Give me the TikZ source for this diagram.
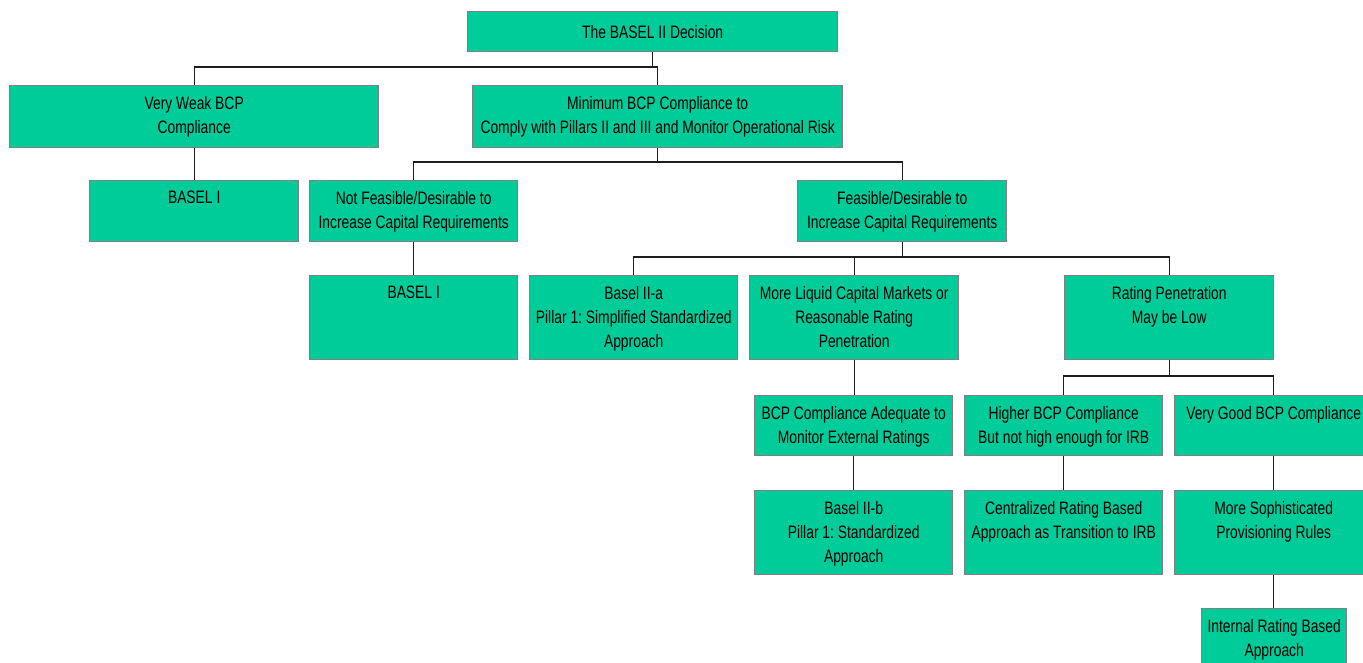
\documentclass[tikz,border=0pt]{standalone}
\usepackage{fontspec}
\setmainfont{Liberation Sans}[FakeStretch=0.77]
\frenchspacing
\definecolor{boxfill}{RGB}{0,204,153}
\definecolor{boxline}{RGB}{128,128,128}
\definecolor{conn}{RGB}{30,30,30}
\tikzset{
  box/.style={draw=boxline, fill=boxfill, line width=1.4pt, inner sep=0pt, anchor=north west},
  txt/.style={anchor=north, inner sep=0pt, align=center, font=\fontsize{18}{24}\selectfont, yshift=-11.2pt},
  conn/.style={draw=conn, line width=1.3pt}
}
\newcommand{\bx}[6]{%
  \node[box, minimum width=#4pt, minimum height=#5pt] (#1) at (#2,#3) {};
  \node[txt] (#1t) at (#1.north) {#6};}
\begin{document}
\begin{tikzpicture}[x=1pt,y=-1pt]
\useasboundingbox (0,0) rectangle (1363,662);
\clip (0,0) rectangle (1363,662);
\fill[white] (0,0) rectangle (1363,662);
\node[box, minimum width=370pt, minimum height=40pt] (top) at (467,11) {};
\node[font=\fontsize{18}{24}\selectfont, inner sep=0pt] (topt) at (top.center) {The BASEL II Decision};
\bx{vw}{9}{85}{369}{62}{Very Weak BCP\\Compliance}
\bx{min}{472}{85}{370}{62}{Minimum BCP Compliance to\\Comply with Pillars II and III and Monitor Operational Risk}
\bx{ba}{89}{180}{209}{61}{BASEL I}
\bx{nf}{309}{180}{208}{61}{Not Feasible/Desirable to\\Increase Capital Requirements}
\bx{fe}{797}{180}{209}{61}{Feasible/Desirable to\\Increase Capital Requirements}
\bx{bb}{309}{275}{208}{84}{BASEL I}
\bx{ta}{529}{275}{208}{84}{Basel II-a\\Pillar 1: Simplified Standardized\\Approach}
\bx{ml}{749}{275}{209}{84}{More Liquid Capital Markets or\\Reasonable Rating\\Penetration}
\bx{rp}{1064}{275}{209}{84}{Rating Penetration\\May be Low}
\bx{bcp}{754}{395}{198}{60}{BCP Compliance Adequate to\\Monitor External Ratings}
\bx{tb}{754}{490}{198}{84}{Basel II-b\\Pillar 1: Standardized\\Approach}
\bx{hi}{964}{395}{198}{60}{Higher BCP Compliance\\But not high enough for IRB}
\bx{vg}{1174}{395}{198}{60}{Very Good BCP Compliance}
\bx{cr}{964}{490}{198}{84}{Centralized Rating Based\\Approach as Transition to IRB}
\bx{ms}{1174}{490}{198}{84}{More Sophisticated\\Provisioning Rules}
\bx{irb}{1201}{608}{145}{60}{Internal Rating Based\\Approach}
% junctions
\coordinate (j1) at (top.south |- 0,67);
\coordinate (j2) at (min.south |- 0,162);
\coordinate (j3) at (fe.south |- 0,257);
\coordinate (j4) at (rp.south |- 0,376);
\draw[conn] (top.south) -- (j1);
\draw[conn] (j1) -| (vw.north);
\draw[conn] (j1) -| (min.north);
\draw[conn] (vw.south) -- (ba.north);
\draw[conn] (min.south) -- (j2);
\draw[conn] (j2) -| (nf.north);
\draw[conn] (j2) -| (fe.north);
\draw[conn] (nf.south) -- (bb.north);
\draw[conn] (fe.south) -- (j3);
\draw[conn] (j3) -| (ta.north);
\draw[conn] (j3) -| (ml.north);
\draw[conn] (j3) -| (rp.north);
\draw[conn] (ml.south) -- (ml.south |- bcp.north);
\draw[conn] (bcp.south) -- (tb.north);
\draw[conn] (rp.south) -- (j4);
\draw[conn] (j4) -| (hi.north);
\draw[conn] (j4) -| (vg.north);
\draw[conn] (hi.south) -- (cr.north);
\draw[conn] (vg.south) -- (ms.north);
\draw[conn] (ms.south) -- (ms.south |- irb.north);
\end{tikzpicture}
\end{document}
